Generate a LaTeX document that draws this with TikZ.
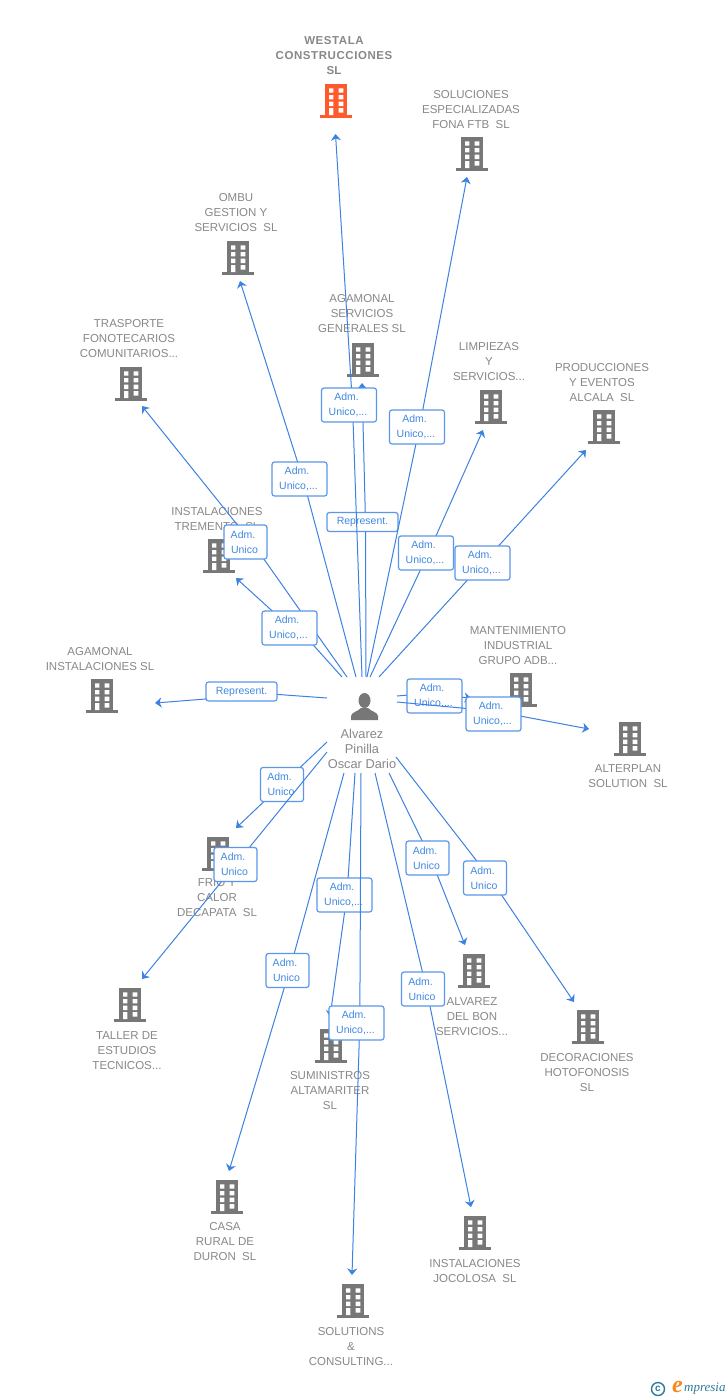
\documentclass[tikz,border=0pt]{standalone}
\usepackage{fontspec}
\setmainfont{Liberation Sans}
\newfontfamily\logofont{Liberation Serif}
\usetikzlibrary{arrows.meta,positioning}
\definecolor{linkblue}{HTML}{3C82E0}
\definecolor{badgeline}{HTML}{5B97E8}
\definecolor{badgetext}{HTML}{4088E2}
\definecolor{iconGray}{HTML}{777777}
\definecolor{iconOrange}{HTML}{FF5A2B}
\definecolor{labelGray}{HTML}{888888}
\definecolor{logoTeal}{HTML}{2F7A99}
\definecolor{logoOrange}{HTML}{F58A1F}
\tikzset{
  lbl/.style={inner sep=0pt,align=center,text=labelGray,font=\fontsize{11.5}{15}\selectfont,yshift=-1pt},
  lblbold/.style={lbl,font=\fontsize{11.5}{15}\selectfont\bfseries},
  conn/.style={draw=linkblue,line width=1pt,-{Stealth[length=6.5pt,width=10pt,inset=2pt]}},
  badge/.style={draw=badgeline,line width=1.2pt,rounded corners=2.5pt,fill=white,inner sep=0pt,align=center,
     text=badgetext,font=\fontsize{10.5}{15}\selectfont,minimum height=34pt},
  bwide/.style={badge,minimum width=55pt},
  bnarrow/.style={badge,minimum width=43pt},
  brep/.style={badge,minimum width=71pt,minimum height=19pt},
  bldgbox/.style={inner sep=0pt,minimum width=32pt,minimum height=34pt},
}
\newcommand{\bldg}[4]{%
  \node[bldgbox] (#1) at (#2,#3) {};
  \begin{scope}[shift={(#1.center)}]
    \fill[#4] (-11,-17) rectangle (11,14);
    \fill[#4] (-16,14) rectangle (16,17);
    \fill[white] (-7,-12.7) rectangle (-2.7,-8.3) (2.7,-12.7) rectangle (7.3,-8.3)
      (-7,-6) rectangle (-2.7,-1.7) (2.7,-6) rectangle (7.3,-1.7)
      (-7,0.7) rectangle (-2.7,5) (2.7,0.7) rectangle (7.3,5)
      (-7,7) rectangle (-2.7,14) (2.7,7) rectangle (7.3,11.7);
  \end{scope}}
\newcommand{\au}{Adm.\hspace*{5pt}\\Unico\hspace*{2pt}}
\newcommand{\aud}{Adm.\hspace*{5pt}\\Unico,...\hspace*{2pt}}
\begin{document}
\begin{tikzpicture}[x=1pt,y=-1pt]
\useasboundingbox (0,0) rectangle (728,1400);
\fill[white] (0,0) rectangle (728,1400);
% buildings
\bldg{westala}{336}{101}{iconOrange}
\bldg{soluciones}{472}{154}{iconGray}
\bldg{ombu}{238}{258}{iconGray}
\bldg{agserv}{363}{360}{iconGray}
\bldg{limpiezas}{491}{407}{iconGray}
\bldg{producciones}{604}{427}{iconGray}
\bldg{trasporte}{131}{384}{iconGray}
\bldg{tremento}{219}{556}{iconGray}
\bldg{aginst}{102}{696}{iconGray}
\bldg{mant}{521}{690}{iconGray}
\bldg{alterplan}{630}{739}{iconGray}
\bldg{frio}{218}{854}{iconGray}
\bldg{taller}{130}{1005}{iconGray}
\bldg{casa}{227}{1197}{iconGray}
\bldg{sumin}{331}{1046}{iconGray}
\bldg{alvbon}{474}{971}{iconGray}
\bldg{decor}{588}{1027}{iconGray}
\bldg{jocolosa}{475}{1233}{iconGray}
\bldg{solutions}{353}{1301}{iconGray}
% labels
\node[lblbold] (lwestala) at (334,55) {\addfontfeature{LetterSpace=5}WESTALA\\\addfontfeature{LetterSpace=5}CONSTRUCCIONES\\SL};
\node[lbl] (lsoluciones) at (471,109) {SOLUCIONES\\ESPECIALIZADAS\\FONA FTB\ \ SL};
\node[lbl] (lombu) at (236,212) {OMBU\\GESTION Y\\SERVICIOS\ \ SL};
\node[lbl] (lagserv) at (362,313) {AGAMONAL\\SERVICIOS\\GENERALES SL};
\node[lbl] (llimpiezas) at (489,361) {LIMPIEZAS\\Y\\SERVICIOS...};
\node[lbl] (lproducciones) at (602,382) {PRODUCCIONES\\Y EVENTOS\\ALCALA\ \ SL};
\node[lbl] (ltrasporte) at (129,338) {TRASPORTE\\FONOTECARIOS\\COMUNITARIOS...};
\node[lbl] (ltremento) at (217,518) {INSTALACIONES\\TREMENTO\ \ SL};
\node[lbl] (laginst) at (100,658.5) {AGAMONAL\\INSTALACIONES SL};
\node[lbl] (lmant) at (518,645) {MANTENIMIENTO\\INDUSTRIAL\\GRUPO ADB...};
\node[lbl] (lalterplan) at (628,775.5) {ALTERPLAN\\SOLUTION\ \ SL};
\node[lbl] (lfrio) at (217,897) {FRIO Y\\CALOR\\DECAPATA\ \ SL};
\node[lbl] (ltaller) at (127,1050) {TALLER DE\\ESTUDIOS\\TECNICOS...};
\node[lbl] (lcasa) at (225,1241) {CASA\\RURAL DE\\DURON\ \ SL};
\node[lbl] (lsumin) at (330,1090) {SUMINISTROS\\ALTAMARITER\\SL};
\node[lbl] (lalvbon) at (472,1016) {ALVAREZ\\DEL BON\\SERVICIOS...};
\node[lbl] (ldecor) at (587,1072) {DECORACIONES\\HOTOFONOSIS\\SL};
\node[lbl] (ljocolosa) at (475,1270) {INSTALACIONES\\JOCOLOSA\ \ SL};
\node[lbl] (lsolutions) at (351,1346) {SOLUTIONS\\\&\\CONSULTING...};
% person
\node[inner sep=0pt,minimum width=28pt,minimum height=28pt] (person) at (364.5,706) {};
\fill[iconGray] (364.5,700.5) ellipse (6pt and 7.5pt);
\fill[iconGray] (351,720) -- (351,716) .. controls (351.5,712) and (358,711.5) .. (361,708)
  -- (368,708) .. controls (371,711.5) and (377.5,712) .. (378,716) -- (378,720) -- cycle;
\node[lbl,font=\fontsize{12.8}{15}\selectfont,yshift=1pt] (lperson) at (362,749) {Alvarez\\Pinilla\\Oscar Dario};
% connector ends
\coordinate (sAS) at (366,677); \coordinate (tAS) at (362,383); \coordinate (cAS) at (362.5,522);
\coordinate (sW) at (362,677); \coordinate (tW) at (335.5,134); \coordinate (cW) at (349,405);
\coordinate (sS) at (367,677); \coordinate (tS) at (467,177); \coordinate (cS) at (417,427);
\coordinate (sO) at (356,677); \coordinate (tO) at (240,281); \coordinate (cO) at (299.5,479);
\coordinate (sTr) at (347,677); \coordinate (tTr) at (142,406); \coordinate (cTr) at (245.5,542);
\coordinate (sTm) at (342,677); \coordinate (tTm) at (236,578); \coordinate (cTm) at (289.5,628);
\coordinate (sL) at (370,677); \coordinate (tL) at (483,430); \coordinate (cL) at (426,553);
\coordinate (sP) at (379,677); \coordinate (tP) at (586,450); \coordinate (cP) at (482.5,563);
\coordinate (sAI) at (327,698); \coordinate (tAI) at (155,703); \coordinate (cAI) at (241.5,691.5);
\coordinate (sM) at (397,696); \coordinate (tM) at (471,698); \coordinate (cM) at (434.5,696);
\coordinate (sAl) at (397,702); \coordinate (tAl) at (589,729); \coordinate (cAl) at (493.5,714);
\coordinate (sF) at (327,742); \coordinate (tF) at (236,828); \coordinate (cF) at (282,784.5);
\coordinate (sTa) at (327,752); \coordinate (tTa) at (142,979); \coordinate (cTa) at (235.5,864.5);
\coordinate (sC) at (344,773); \coordinate (tC) at (229,1171); \coordinate (cC) at (287.5,970.5);
\coordinate (sSu) at (355,773); \coordinate (tSu) at (330,1017); \coordinate (cSu) at (344.5,895);
\coordinate (sSo) at (361,773); \coordinate (tSo) at (352,1275); \coordinate (cSo) at (356.5,1023);
\coordinate (sJ) at (375,773); \coordinate (tJ) at (471,1207); \coordinate (cJ) at (423,989);
\coordinate (sAB) at (389,773); \coordinate (tAB) at (465,945); \coordinate (cAB) at (427.5,858);
\coordinate (sD) at (396,757); \coordinate (tD) at (574,1002); \coordinate (cD) at (485,878);
% edges and badges, in stacking order
\draw[conn] (sAS) -- ([shift={(3,0)}]cAS) -- (tAS);
\node[brep] (bAS) at (cAS) {Represent.};
\draw[conn] (sW) -- ([shift={(3.5,0)}]cW) -- (tW);
\node[bwide] (bW) at (cW) {\aud};
\draw[conn] (sS) -- ([shift={(2.5,0)}]cS) -- (tS);
\node[bwide] (bS) at (cS) {\aud};
\draw[conn] (sO) -- ([shift={(3.5,0)}]cO) -- (tO);
\node[bwide] (bO) at (cO) {\aud};
\draw[conn] (sTr) -- ([shift={(12,8)}]cTr) -- (tTr);
\draw[conn] (sTm) -- ([shift={(13,5)}]cTm) -- ([shift={(-3,-4)}]cTm) -- (tTm);
\node[bnarrow] (bTr) at (cTr) {\au};
\node[bwide] (bTm) at (cTm) {\aud};
\draw[conn] (sL) -- ([shift={(2.4,0)}]cL) -- (tL);
\draw[conn] (sP) -- ([shift={(0.5,0)}]cP) -- (tP);
\node[bwide] (bL) at (cL) {\aud};
\node[bwide] (bP) at (cP) {\aud};
\draw[conn] (sAI) -- ([shift={(30,2.5)}]cAI) -- ([shift={(-29.5,7)}]cAI) -- (tAI);
\node[brep] (bAI) at (cAI) {Represent.};
\draw[conn] (sM) -- ([shift={(-15,-2)}]cM) -- (tM);
\node[bwide] (bM) at (cM) {\aud};
\draw[conn] (sAl) -- ([shift={(0,-3)}]cAl) -- (tAl);
\node[bwide] (bAl) at (cAl) {\aud};
\draw[conn] (sF) -- (cF) -- (tF);
\node[bnarrow] (bF) at (cF) {\au};
\draw[conn] (sTa) -- (cTa) -- (tTa);
\node[bnarrow] (bTa) at (cTa) {\au};
\draw[conn] (sC) -- ([shift={(2,0)}]cC) -- (tC);
\node[bnarrow] (bC) at (cC) {\au};
\draw[conn] (sSu) -- ([shift={(2.5,0)}]cSu) -- (tSu);
\node[bwide] (bSu) at (cSu) {\aud};
\draw[conn] (sSo) -- ([shift={(3.3,0)}]cSo) -- (tSo);
\node[bwide] (bSo) at (cSo) {\aud};
\draw[conn] (sJ) -- ([shift={(3.5,0)}]cJ) -- (tJ);
\node[bnarrow] (bJ) at (cJ) {\au};
\draw[conn] (sAB) -- ([shift={(3,0)}]cAB) -- (tAB);
\node[bnarrow] (bAB) at (cAB) {\au};
\draw[conn] (sD) -- ([shift={(5,0)}]cD) -- (tD);
\node[bnarrow] (bD) at (cD) {\au};
% logo
\node[circle,draw=logoTeal,line width=1.4pt,inner sep=0pt,minimum size=13pt,text=logoTeal,font=\fontsize{10}{10}\selectfont\bfseries] (copyr) at (658,1389) {c};
\node[inner sep=0pt,text=logoOrange,font=\logofont\itshape\bfseries\fontsize{24}{24}\selectfont] (logoe) at (677.5,1387) {e};
\node[inner sep=0pt,text=logoTeal,font=\logofont\itshape\fontsize{13}{13}\selectfont,anchor=west] (logot) at (684,1389) {mpresia};
\end{tikzpicture}
\end{document}
